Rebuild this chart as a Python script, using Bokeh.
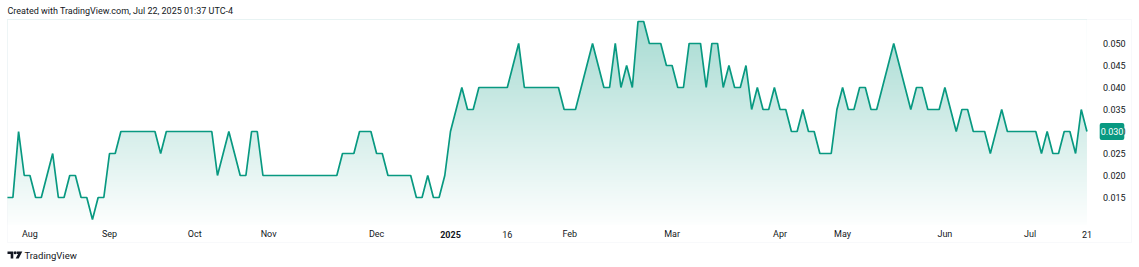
import numpy as np
from bokeh.plotting import figure
from bokeh.models import Range1d, Label, BoxAnnotation, ColumnDataSource
from bokeh.core.properties import value
from bokeh.embed import file_html
from bokeh.resources import INLINE

# ---- data (one bar per trading session) ----
values = [
    0.015, 0.015, 0.030, 0.020, 0.020, 0.015, 0.015, 0.020, 0.025, 0.015,
    0.015, 0.020, 0.020, 0.015, 0.015, 0.010, 0.015, 0.015, 0.025, 0.025,
    0.030, 0.030, 0.030, 0.030, 0.030, 0.030, 0.030, 0.025, 0.030, 0.030,
    0.030, 0.030, 0.030, 0.030, 0.030, 0.030, 0.030, 0.020, 0.025, 0.030,
    0.025, 0.020, 0.020, 0.030, 0.030, 0.020, 0.020, 0.020, 0.020, 0.020,
    0.020, 0.020, 0.020, 0.020, 0.020, 0.020, 0.020, 0.020, 0.020, 0.025,
    0.025, 0.025, 0.030, 0.030, 0.030, 0.025, 0.025, 0.020, 0.020, 0.020,
    0.020, 0.020, 0.015, 0.015, 0.020, 0.015, 0.015, 0.020, 0.030, 0.035,
    0.040, 0.035, 0.035, 0.040, 0.040, 0.040, 0.040, 0.040, 0.040, 0.045,
    0.050, 0.040, 0.040, 0.040, 0.040, 0.040, 0.040, 0.040, 0.035, 0.035,
    0.035, 0.040, 0.045, 0.050, 0.045, 0.040, 0.040, 0.050, 0.040, 0.045,
    0.040, 0.055, 0.055, 0.050, 0.050, 0.050, 0.045, 0.045, 0.040, 0.040,
    0.050, 0.050, 0.050, 0.040, 0.050, 0.050, 0.040, 0.045, 0.040, 0.040,
    0.045, 0.035, 0.040, 0.035, 0.035, 0.040, 0.035, 0.035, 0.030, 0.030,
    0.035, 0.030, 0.030, 0.025, 0.025, 0.025, 0.035, 0.040, 0.035, 0.035,
    0.040, 0.040, 0.035, 0.035, 0.040, 0.045, 0.050, 0.045, 0.040, 0.035,
    0.040, 0.040, 0.035, 0.035, 0.035, 0.040, 0.035, 0.030, 0.035, 0.035,
    0.030, 0.030, 0.030, 0.025, 0.030, 0.035, 0.030, 0.030, 0.030, 0.030,
    0.030, 0.030, 0.025, 0.030, 0.025, 0.025, 0.030, 0.030, 0.025, 0.035,
    0.030,
]
bar_index = list(range(len(values)))

x_tick_positions = [4, 18, 33, 46, 65, 88, 99, 117, 136, 147, 165, 180, 190]
x_tick_labels = ["Aug", "Sep", "Oct", "Nov", "Dec", "16", "Feb", "Mar", "Apr", "May", "Jun", "Jul", "21"]
year_tick_position = [78]
year_tick_label = ["2025"]

y_ticks = [0.015, 0.020, 0.025, 0.030, 0.035, 0.040, 0.045, 0.050]
y_tick_labels = ["0.015", "0.020", "0.025", "0.030", "0.035", "0.040", "0.045", "0.050"]

header_text = "Created with TradingView.com, Jul 22, 2025 01:37 UTC-4"
footer_text = "TradingView"
last_value = values[-1]
last_label = "0.030"

# ---- styling / layout ----
W, H = 1139, 267
PANE_L, PANE_R, PANE_T, PANE_B = 7, 1089, 19, 224   # price pane in pixels
BOX_R, BOX_B = 1131, 242                             # outer chart frame
X_START, X_END = 0.05, 190.45                        # bar range over the pane
Y_TOP, Y_BOT = 0.05545, 0.008864                     # price range over the pane
GREEN = "#089981"
TXT = "#131722"
FONT = "Roboto"
FS = "9px"

def x_at(px):
    return X_START + (px - PANE_L) * (X_END - X_START) / (PANE_R - PANE_L)

def y_at(py):
    return Y_TOP - (py - PANE_T) * (Y_TOP - Y_BOT) / (PANE_B - PANE_T)

p = figure(width=W, height=H, output_backend="svg", toolbar_location=None,
           x_range=Range1d(x_at(0), x_at(W)), y_range=Range1d(y_at(H), y_at(0)),
           x_axis_location=None, y_axis_location=None, title=None,
           min_border=0, min_border_left=0, min_border_right=0,
           min_border_top=0, min_border_bottom=0)
p.background_fill_color = "white"
p.border_fill_color = "white"
p.outline_line_color = None
p.grid.visible = False

# outer frame
p.add_layout(BoxAnnotation(left=x_at(PANE_L), right=x_at(BOX_R), top=y_at(PANE_T), bottom=y_at(BOX_B),
                           fill_alpha=0, line_color="#e9ecf1", line_width=1))

# gradient fill under the line: vertical gradient image masked above the line
rows = PANE_B - PANE_T
t = np.linspace(0.0, 1.0, rows)             # 0 = bottom, 1 = top
alpha = 0.01 + 0.35 * t
base = np.array([8, 153, 129], dtype=float)
rgb = 255 - alpha[:, None] * (255 - base[None, :])
img = np.zeros((rows, 1, 4), dtype=np.uint8)
img[:, 0, :3] = np.round(rgb).astype(np.uint8)
img[:, 0, 3] = 255
img32 = img.view(dtype=np.uint32).reshape((rows, 1))
p.image_rgba(image=[img32], x=bar_index[0], y=Y_BOT,
             dw=bar_index[-1] - bar_index[0], dh=Y_TOP - Y_BOT)
p.varea(x=bar_index, y1=values, y2=Y_TOP, fill_color="white", fill_alpha=1.0)
p.line(bar_index, values, line_color=GREEN, line_width=1.7)

# time scale labels
xsrc = ColumnDataSource(dict(x=x_tick_positions, text=x_tick_labels))
p.text(x="x", y=y_at(233.5), text="text", source=xsrc,
       text_align="center", text_baseline="middle",
       text_font=value(FONT), text_font_size=FS, text_color=TXT)
ysrc = ColumnDataSource(dict(x=year_tick_position, text=year_tick_label))
p.text(x="x", y=y_at(233.5), text="text", source=ysrc,
       text_align="center", text_baseline="middle",
       text_font=value(FONT), text_font_size=FS, text_font_style="bold", text_color=TXT)

# price scale labels
psrc = ColumnDataSource(dict(y=y_ticks, text=y_tick_labels))
p.text(x=x_at(1102.5), y="y", text="text", source=psrc,
       text_align="left", text_baseline="middle",
       text_font=value(FONT), text_font_size=FS, text_color=TXT)

# last price tag
p.add_layout(Label(x=x_at(1111.5), y=last_value, text=last_label,
                   text_align="center", text_baseline="middle",
                   text_font=FONT, text_font_size=FS, text_font_style="normal",
                   text_color="white", background_fill_color=GREEN,
                   background_fill_alpha=1.0, padding=(1, 5), border_radius=2))

# header
p.add_layout(Label(x=x_at(7), y=y_at(10.5), text=header_text,
                   text_align="left", text_baseline="middle",
                   text_font=FONT, text_font_size=FS, text_color=TXT))

# footer logo (drawn shapes) and name
def px_poly(pts):
    return [x_at(a) for a, b in pts], [y_at(b) for a, b in pts]

lx1, ly1 = px_poly([(7, 251), (12.8, 251), (12.8, 258), (10.2, 258), (10.2, 253.6), (7, 253.6)])
lx2, ly2 = px_poly([(16.2, 251), (21.8, 251), (18.2, 258), (15.2, 258), (17.6, 253.4), (16.2, 253.4)])
p.patches([lx1, lx2], [ly1, ly2], fill_color=TXT, line_color=None)
p.scatter(x=[x_at(14.6)], y=[y_at(252.3)], size=3, marker="circle", fill_color=TXT, line_color=None)
p.add_layout(Label(x=x_at(24), y=y_at(255), text=footer_text,
                   text_align="left", text_baseline="middle",
                   text_font=FONT, text_font_size="9.5px", text_color=TXT))

open("out.html", "w").write(file_html(p, INLINE))
